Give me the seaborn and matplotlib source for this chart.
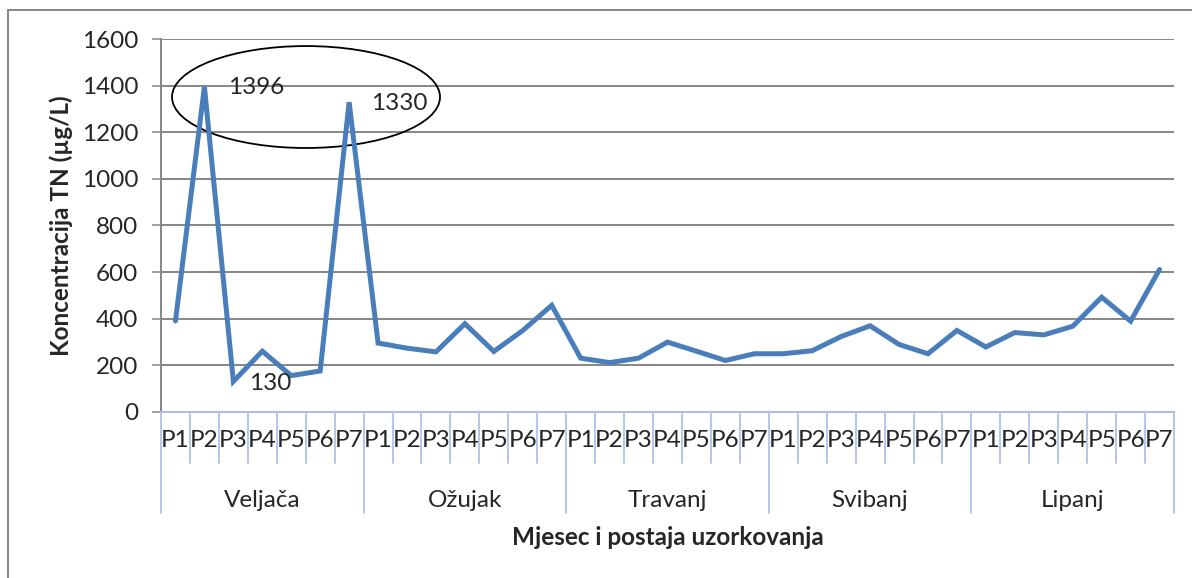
import matplotlib
matplotlib.use("Agg")
import pandas as pd
import matplotlib.pyplot as plt
import matplotlib.transforms as mtransforms
from matplotlib.patches import Ellipse
from matplotlib.lines import Line2D
import seaborn as sns

# data (TN concentration, ug/L)
months = ["Veljača", "Ožujak", "Travanj", "Svibanj", "Lipanj"]
stations = ["P1", "P2", "P3", "P4", "P5", "P6", "P7"]
tn_veljaca = [390, 1396, 130, 260, 155, 175, 1330]
tn_ozujak = [295, 273, 257, 378, 259, 349, 457]
tn_travanj = [230, 211, 230, 299, 260, 220, 249]
tn_svibanj = [249, 262, 323, 369, 289, 249, 349]
tn_lipanj = [278, 340, 330, 367, 492, 389, 611]
y_ticks = [0, 200, 400, 600, 800, 1000, 1200, 1400, 1600]

rows = []
for m, vals in zip(months, [tn_veljaca, tn_ozujak, tn_travanj, tn_svibanj, tn_lipanj]):
    for s, v in zip(stations, vals):
        rows.append({"mjesec": m, "postaja": s, "tn": v})
df = pd.DataFrame(rows)
df["pos"] = range(len(df))

sns.set_style("white")
plt.rcParams["font.family"] = ["Lato", "DejaVu Sans"]

GRID = "#868686"
BLUE_AX = "#A7BEE6"
LINE = "#4A7EBB"
FS = 17.5

fig = plt.figure(figsize=(11.92, 5.78), dpi=100)
ax = fig.add_axes([161 / 1192, 1 - 411.7 / 578, (1174 - 161) / 1192, (411.7 - 39.3) / 578])

sns.lineplot(data=df, x="pos", y="tn", ax=ax, color=LINE, linewidth=3.6,
             solid_joinstyle="miter", solid_capstyle="round")

ax.set_xlim(-0.5, len(df) - 0.5)
ax.set_ylim(0, 1600)
ax.set_yticks(y_ticks)
ax.set_yticklabels([str(t) for t in y_ticks], fontsize=FS)
ax.yaxis.grid(True, color=GRID, linewidth=1.4)
ax.set_axisbelow(True)
ax.tick_params(axis="y", length=6.5, width=1.1, color=GRID, pad=10, left=True)
ax.set_xticks([])
ax.set_xlabel("")
ax.set_ylabel("Koncentracija TN (µg/L)", fontsize=17.5, fontweight="bold", labelpad=6)

for side in ["top", "right"]:
    ax.spines[side].set_visible(False)
ax.spines["left"].set_color(GRID)
ax.spines["left"].set_linewidth(1.4)
ax.spines["bottom"].set_color(BLUE_AX)
ax.spines["bottom"].set_linewidth(1.4)

# two-level category axis
trans = mtransforms.blended_transform_factory(ax.transData, ax.transAxes)
n = len(df)
for i in range(n + 1):
    x = i - 0.5
    depth = -0.273 if i % len(stations) == 0 else -0.137
    ax.add_line(Line2D([x, x], [0, depth], transform=trans, color=BLUE_AX,
                       linewidth=1.2, clip_on=False))
for i, s in enumerate(df["postaja"]):
    ax.text(i, -0.078, s, transform=trans, ha="center", va="center", fontsize=FS)
for k, m in enumerate(months):
    ax.text(k * len(stations) + 3, -0.238, m, transform=trans, ha="center",
            va="center", fontsize=FS)
ax.text(0.5, -0.338, "Mjesec i postaja uzorkovanja", transform=ax.transAxes,
        ha="center", va="center", fontsize=17.5, fontweight="bold")

# highlighted values
ax.text(1.8, 1391, "1396", fontsize=FS, va="center", ha="left")
ax.text(6.75, 1326, "1330", fontsize=FS, va="center", ha="left")
ax.text(2.55, 123, "130", fontsize=FS, va="center", ha="left")
ax.add_patch(Ellipse((4.51, 1352), 9.26, 438, fill=False, edgecolor="black",
                     linewidth=1.3, clip_on=False))

# chart area border
fig.add_artist(Line2D([8 / 1192, 1], [1 - 10 / 578, 1 - 10 / 578],
                      transform=fig.transFigure, color=GRID, linewidth=1.4))
fig.add_artist(Line2D([8 / 1192, 8 / 1192], [0, 1 - 10 / 578],
                      transform=fig.transFigure, color=GRID, linewidth=1.4))

fig.savefig("out.png", dpi=100)
